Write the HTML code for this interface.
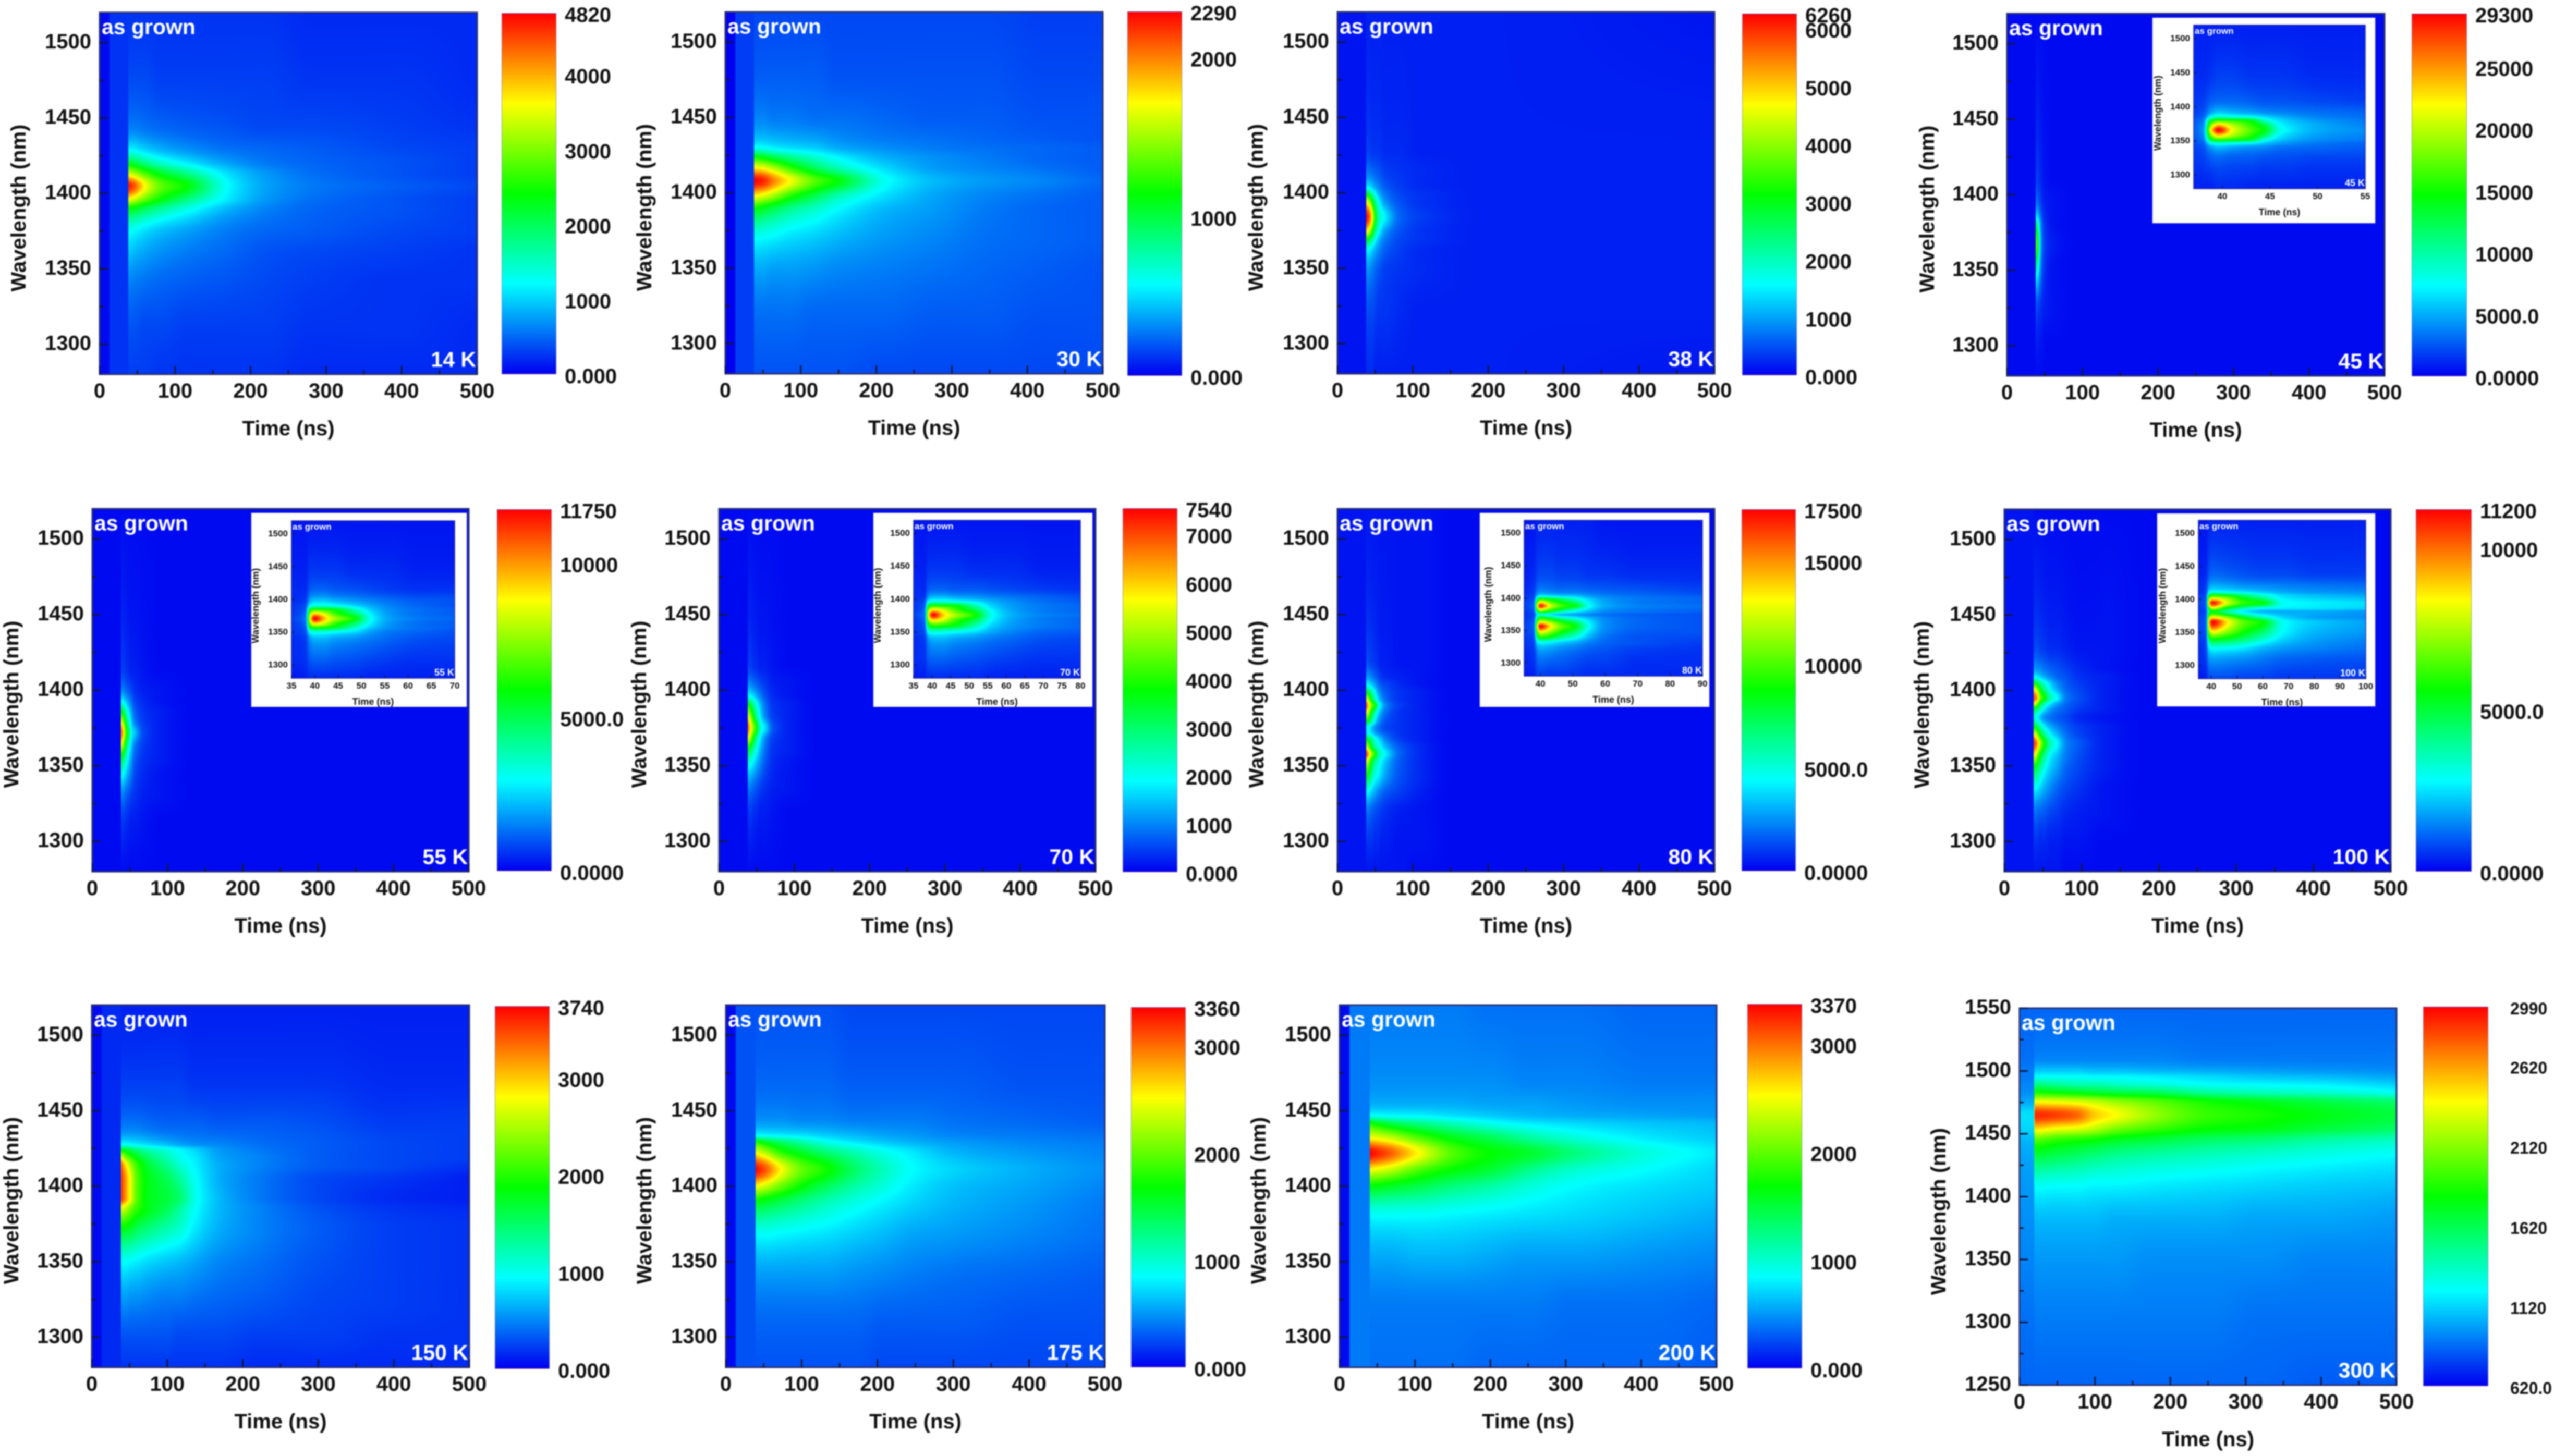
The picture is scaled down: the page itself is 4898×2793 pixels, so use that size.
<!DOCTYPE html>
<html lang="en">
<head>
<meta charset="utf-8">
<title>Time-resolved photoluminescence maps, as-grown sample, 14 K to 300 K</title>
<style>
html,body{margin:0;padding:0;background:#fff;}
#figure{position:relative;width:4898px;height:2793px;overflow:hidden;background:#fff;filter:blur(1.2px);font-family:"Liberation Sans",Arial,sans-serif;}
#figure canvas{position:absolute;display:block;}
#figure svg{position:absolute;left:0;top:0;overflow:visible;}
#figure text{font-family:"Liberation Sans",Arial,sans-serif;font-weight:700;}
.colorbar{position:absolute;box-sizing:border-box;border:1.5px solid rgba(120,120,190,.75);background:linear-gradient(to top,rgb(0,0,240) 0%,rgb(0,255,255) 25%,rgb(0,255,0) 50%,rgb(255,255,0) 75%,rgb(255,0,0) 100%);}
.inset-box{position:absolute;background:#fff;box-shadow:0 0 0 1px rgba(70,70,190,.5);}
</style>
</head>
<body>
<div id="figure"></div>
<script>
/* All grid values are intensities, in % of that panel's colour-bar span.
   Rows run top-to-bottom in the plot (long to short wavelength). */
const xTicks=[0,100,200,300,400,500];
const xMinorTicks=[50,150,250,350,450];
const yTicks=[1300,1350,1400,1450,1500];
const yMinorTicks=[1300,1325,1350,1375,1400,1425,1450,1475,1500];
const yTicks300K=[1250,1300,1350,1400,1450,1500,1550];
const yMinorTicks300K=[1275,1325,1375,1425,1475,1525];

const cbarTicks14K=[0,1000,2000,3000,4000,4820];
const cbarLabels14K=['0.000','1000','2000','3000','4000','4820'];
const gapEnds14K=[13,38];
const gapLevels14K=[1,5];
const times14K=[38,45,60,80,115,170,220,280,400,500];
const waves14K=[1520,1480,1445,1430,1420,1413,1405,1396,1390,1375,1360,1340,1310,1280];
const values14K=[
[5,5,5,5,5,5,5,4,4,4],
[7,7,7,6,6,6,6,5,5,4],
[12,12,11,10,9,8,7,7,6,5],
[24,23,20,17,14,11,10,9,7,6],
[48,45,38,31,24,16,12,10,8,6],
[72,68,58,48,38,22,15,11,8,6],
[98,93,75,60,50,25,16,12,9,7],
[75,70,60,50,38,23,15,11,8,6],
[50,48,42,36,28,18,13,10,8,6],
[27,25,22,19,16,12,10,9,7,6],
[20,18,16,14,12,10,8,7,6,5],
[13,12,11,10,9,8,7,6,5,5],
[8,8,7,7,6,6,6,5,5,4],
[6,6,6,5,5,5,5,4,4,4]];

const cbarTicks30K=[0,1000,2000,2290];
const cbarLabels30K=['0.000','1000','2000','2290'];
const gapEnds30K=[13,38];
const gapLevels30K=[0,6];
const times30K=[38,50,63,85,120,148,212,280,345,420,500];
const waves30K=[1520,1480,1450,1436,1430,1424,1417,1408,1398,1389,1370,1347,1320,1280];
const values30K=[
[7,7,7,7,7,7,7,7,7,6,6],
[9,9,9,9,9,8,8,8,8,7,7],
[13,13,12,12,11,11,10,9,9,8,8],
[19,19,18,17,16,14,12,11,10,9,8],
[27,26,24,22,20,17,14,12,11,10,9],
[50,47,42,36,29,24,17,14,12,10,9],
[75,72,66,54,40,32,21,15,13,11,9],
[100,97,88,75,58,50,26,18,15,13,10],
[76,72,66,54,42,33,22,16,13,11,9],
[50,46,42,36,30,25,18,15,12,10,9],
[26,25,24,22,20,18,15,13,11,10,9],
[16,16,15,15,14,13,12,11,10,9,8],
[11,11,11,11,10,10,10,9,9,8,8],
[8,8,8,8,8,8,7,7,7,7,7]];

const cbarTicks38K=[0,1000,2000,3000,4000,5000,6000,6260];
const cbarLabels38K=['0.000','1000','2000','3000','4000','5000','6000','6260'];
const gapEnds38K=[38];
const gapLevels38K=[2];
const times38K=[38,42,46,50,55,63,82,110,200,500];
const waves38K=[1520,1430,1415,1404,1399,1394,1384,1374,1369,1361,1348,1319,1280];
const values38K=[
[3,3,3,3,3,3,3,3,3,2],
[6,6,5,5,5,4,4,3,3,3],
[12,11,10,9,8,6,5,4,3,3],
[25,23,20,16,13,9,6,4,3,3],
[50,45,35,26,18,12,7,5,3,3],
[75,68,52,36,25,15,8,5,3,3],
[100,92,75,50,32,24,10,6,3,3],
[75,68,52,36,25,15,8,5,3,3],
[50,45,35,26,18,12,7,5,3,3],
[25,23,20,16,13,9,6,4,3,3],
[15,14,12,10,8,6,5,4,3,3],
[8,7,7,6,5,5,4,3,3,3],
[4,4,4,3,3,3,3,3,3,2]];

const cbarTicks45K=[0,5000,10000,15000,20000,25000,29300];
const cbarLabels45K=['0.0000','5000.0','10000','15000','20000','25000','29300'];
const gapEnds45K=[38];
const gapLevels45K=[1];
const times45K=[38,40,42,44,46,50,60,90,500];
const waves45K=[1520,1412,1395,1386,1381,1367,1354,1344,1325,1300,1280];
const values45K=[
[1,1,1,1,1,1,1,1,1],
[6,6,5,4,3,2,1,1,1],
[13,11,9,7,5,3,2,1,1],
[25,22,17,12,8,4,2,1,1],
[42,36,26,17,10,5,2,1,1],
[62,55,38,22,12,6,3,1,1],
[42,36,26,17,10,5,2,1,1],
[25,22,17,12,8,4,2,1,1],
[8,7,6,5,4,3,2,1,1],
[3,3,2,2,2,1,1,1,1],
[1,1,1,1,1,1,1,1,1]];

const insetTicks45K=[40,45,50,55];
const insetTimes45K=[37,38,38.8,39.6,41,43,44.5,46,50,55];
const insetWaves45K=[1520,1450,1410,1392,1385,1380,1372,1366,1360,1352,1347,1340,1320,1280];
const insetValues45K=[
[3,3,3,3,3,3,3,3,3,3],
[4,4,5,6,6,5,5,5,4,4],
[5,6,9,10,10,9,8,8,7,6],
[6,8,16,20,18,16,14,13,11,10],
[7,10,26,32,30,27,22,18,13,11],
[8,12,45,55,53,48,30,22,15,12],
[9,14,65,85,70,55,45,26,17,13],
[9,15,75,100,75,58,48,28,17,14],
[9,14,65,85,70,55,43,25,16,13],
[8,12,45,55,52,46,28,20,14,12],
[7,10,26,30,28,25,20,16,12,10],
[6,8,15,18,16,14,13,11,10,9],
[5,6,8,9,8,8,7,7,6,6],
[3,3,3,4,4,3,3,3,3,3]];

const cbarTicks55K=[0,5000,10000,11750];
const cbarLabels55K=['0.0000','5000.0','10000','11750'];
const gapEnds55K=[38];
const gapLevels55K=[1];
const times55K=[38,41,44,48,52,56,68,90,130,500];
const waves55K=[1520,1415,1400,1393,1386,1379,1372,1364,1356,1343,1330,1315,1280];
const values55K=[
[1,1,1,1,1,1,1,1,1,1],
[6,6,5,4,3,3,2,1,1,1],
[14,13,11,9,7,5,3,2,1,1],
[26,24,20,15,11,7,4,2,1,1],
[50,44,34,24,16,10,5,3,1,1],
[75,65,48,32,21,13,6,3,1,1],
[92,80,60,44,25,20,7,3,1,1],
[75,65,48,32,21,13,6,3,1,1],
[50,44,34,24,16,10,5,3,1,1],
[26,24,20,15,11,7,4,2,1,1],
[13,12,10,8,6,5,3,2,1,1],
[6,6,5,4,3,3,2,1,1,1],
[1,1,1,1,1,1,1,1,1,1]];

const insetTicks55K=[35,40,45,50,55,60,65,70];
const insetTimes55K=[35,38,39,40,42,44,48.7,52,56,62,70];
const insetWaves55K=[1520,1450,1415,1398,1390,1385,1378,1371,1364,1357,1351,1340,1310,1280];
const insetValues55K=[
[2,2,2,2,2,2,2,2,2,2,2],
[3,3,5,5,5,5,4,4,4,3,3],
[4,4,9,10,10,9,8,7,6,5,5],
[4,6,17,20,20,18,15,13,11,9,8],
[5,8,27,30,30,28,22,17,13,10,8],
[5,9,45,52,50,48,30,20,14,11,9],
[5,11,65,80,72,58,40,24,15,11,9],
[6,12,75,100,82,68,50,26,16,12,10],
[5,11,65,80,72,58,40,24,15,11,9],
[5,9,45,52,50,46,30,20,14,11,9],
[5,8,27,30,29,27,22,16,12,10,8],
[4,6,15,18,18,16,14,12,10,8,7],
[4,5,9,10,10,9,8,7,6,5,5],
[2,3,4,4,4,4,4,3,3,3,3]];

const cbarTicks70K=[0,1000,2000,3000,4000,5000,6000,7000,7540];
const cbarLabels70K=['0.000','1000','2000','3000','4000','5000','6000','7000','7540'];
const gapEnds70K=[38];
const gapLevels70K=[1];
const times70K=[38,41,45,50,55,59,72,95,130,500];
const waves70K=[1520,1417,1405,1397,1391,1383,1375,1368,1361,1349,1335,1320,1280];
const values70K=[
[1,1,1,1,1,1,1,1,1,1],
[6,6,5,4,3,3,2,1,1,1],
[14,13,11,9,7,6,3,2,1,1],
[26,24,21,16,12,9,4,2,1,1],
[50,45,36,26,18,13,5,3,1,1],
[75,66,52,34,23,16,6,3,1,1],
[92,80,65,50,28,25,8,3,1,1],
[75,66,52,34,23,16,6,3,1,1],
[50,45,36,26,18,13,5,3,1,1],
[26,24,21,16,12,9,4,2,1,1],
[13,12,10,8,6,5,3,2,1,1],
[6,6,5,4,3,3,2,1,1,1],
[1,1,1,1,1,1,1,1,1,1]];

const insetTicks70K=[35,40,45,50,55,60,65,70,75,80];
const insetTimes70K=[35,38,39,40.3,43,46,52,56,62,70,80];
const insetWaves70K=[1520,1450,1415,1402,1396,1390,1383,1376,1369,1360,1351,1340,1310,1280];
const insetValues70K=[
[2,2,2,2,2,2,2,2,2,2,2],
[3,3,5,5,5,5,4,4,4,3,3],
[4,4,9,10,10,9,9,8,7,6,5],
[4,6,17,20,20,18,16,14,12,10,8],
[5,8,27,30,30,28,23,18,14,11,9],
[5,9,45,54,52,50,32,21,15,12,10],
[5,11,65,80,72,58,42,25,16,12,10],
[6,12,75,100,80,68,50,27,17,13,11],
[5,11,65,80,72,58,42,25,16,12,10],
[5,9,45,54,52,48,32,21,15,12,10],
[5,8,27,30,29,27,22,17,13,10,9],
[4,6,15,18,18,16,14,12,10,8,7],
[4,5,9,10,10,9,8,7,6,5,5],
[2,3,4,4,4,4,4,3,3,3,3]];

const cbarTicks80K=[0,5000,10000,15000,17500];
const cbarLabels80K=['0.0000','5000.0','10000','15000','17500'];
const gapEnds80K=[38];
const gapLevels80K=[2];
const times80K=[38,41,45,50,54,58,63,82,110,150,500];
const waves80K=[1520,1420,1410,1404,1399,1394,1390,1385,1379,1375,1372,1368,1362,1358,1353,1343,1332,1321,1300,1280];
const values80K=[
[2,2,2,2,2,2,2,2,2,1,1],
[8,7,6,5,4,3,3,2,2,1,1],
[15,14,12,9,7,5,4,3,2,1,1],
[26,24,20,15,11,8,7,4,2,1,1],
[50,44,34,24,16,12,9,5,3,1,1],
[75,66,48,32,22,16,11,5,3,1,1],
[92,80,62,50,30,22,14,6,3,1,1],
[75,66,48,32,22,16,11,5,3,1,1],
[50,44,34,22,15,11,8,5,3,1,1],
[28,26,20,14,11,9,7,5,3,1,1],
[28,26,22,16,13,11,9,5,3,1,1],
[50,45,36,26,22,18,13,6,3,1,1],
[75,66,50,36,30,25,20,9,4,1,1],
[96,84,66,52,36,30,25,10,4,1,1],
[75,66,50,36,30,25,20,9,4,1,1],
[50,45,36,26,24,20,16,8,4,1,1],
[26,24,20,16,13,11,9,6,3,1,1],
[13,12,10,8,7,6,5,3,2,1,1],
[6,5,5,4,4,3,3,2,2,1,1],
[2,2,2,2,2,2,2,2,1,1,1]];

const insetTicks80K=[40,50,60,70,80,90];
const insetTimes80K=[35,38,39,40,43,46,51,55,60,70,90];
const insetWaves80K=[1520,1440,1410,1403,1399,1394,1388,1383,1378,1375,1370,1363,1357,1348,1339,1332,1320,1290,1280];
const insetValues80K=[
[2,2,3,3,3,3,3,3,2,2,2],
[3,4,6,7,7,6,6,5,5,4,4],
[4,6,12,14,13,12,12,11,10,9,7],
[5,7,20,26,24,22,20,16,13,11,9],
[5,8,35,50,46,40,28,20,15,12,10],
[6,9,55,75,60,50,38,24,16,12,10],
[6,10,70,98,72,58,48,26,17,13,11],
[6,9,55,75,60,48,32,22,15,12,10],
[5,8,35,50,40,30,22,17,13,11,9],
[5,7,22,28,22,18,15,13,11,9,8],
[5,8,35,50,42,32,24,18,13,10,8],
[6,9,55,75,66,54,40,24,14,10,8],
[6,10,70,100,78,62,48,26,14,10,8],
[6,9,55,75,64,52,38,22,13,9,8],
[5,8,36,50,45,36,26,17,11,8,7],
[5,7,22,26,24,21,17,13,10,8,6],
[4,6,13,16,15,13,11,9,8,6,5],
[3,4,7,8,7,7,6,5,5,4,4],
[2,3,5,6,5,5,5,4,4,4,3]];

const cbarTicks100K=[0,5000,10000,11200];
const cbarLabels100K=['0.0000','5000.0','10000','11200'];
const gapEnds100K=[38];
const gapLevels100K=[2];
const times100K=[38,42,46,52,60,68,80,95,130,180,500];
const waves100K=[1520,1430,1415,1409,1405,1401,1395,1391,1388,1382,1376,1371,1365,1357,1349,1335,1320,1300,1280];
const values100K=[
[1,1,1,1,1,1,1,1,1,1,1],
[7,7,6,5,4,4,3,2,2,1,1],
[15,14,13,11,9,8,6,4,2,1,1],
[26,24,21,17,13,10,8,5,3,1,1],
[50,44,36,28,20,14,9,6,3,1,1],
[75,66,50,36,24,17,10,7,3,1,1],
[92,85,62,50,32,25,12,8,3,1,1],
[75,64,46,32,22,16,10,7,3,1,1],
[50,42,34,24,16,12,9,6,3,1,1],
[32,26,20,14,11,9,7,4,2,1,1],
[50,44,34,24,17,13,9,6,3,1,1],
[75,66,50,36,24,18,11,7,3,1,1],
[96,86,68,50,32,25,13,9,3,1,1],
[75,66,50,36,24,19,12,8,3,1,1],
[50,44,36,27,20,16,10,7,3,1,1],
[26,24,21,17,13,10,7,5,2,1,1],
[12,11,10,9,7,6,4,3,2,1,1],
[5,5,4,4,3,3,2,2,1,1,1],
[2,2,2,2,2,2,1,1,1,1,1]];

const insetTicks100K=[40,50,60,70,80,90,100];
const insetTimes100K=[35,38,39,40.5,46,52,60,68,80,100];
const insetWaves100K=[1520,1440,1420,1411,1407,1401,1395,1387,1382,1373,1366,1351,1340,1326,1310,1280];
const insetValues100K=[
[2,2,3,3,3,3,3,3,3,3],
[3,4,8,10,9,8,7,7,6,6],
[4,6,15,18,17,15,14,13,12,11],
[4,7,24,28,26,24,20,17,15,14],
[5,8,38,50,46,38,28,21,18,16],
[6,9,60,75,65,50,38,24,21,19],
[6,10,75,98,72,56,50,26,24,22],
[5,9,50,72,50,36,27,24,23,21],
[5,8,38,48,35,24,18,17,17,15],
[6,9,60,75,64,48,32,21,16,14],
[6,10,75,100,78,60,50,26,20,16],
[6,9,60,75,64,52,40,25,18,15],
[5,8,38,50,46,40,30,21,16,13],
[4,7,22,26,25,23,18,15,13,11],
[4,6,14,16,15,14,12,10,9,8],
[2,3,6,7,7,6,6,5,5,5]];

const cbarTicks150K=[0,1000,2000,3000,3740];
const cbarLabels150K=['0.000','1000','2000','3000','3740'];
const gapEnds150K=[13,39];
const gapLevels150K=[1,4];
const times150K=[39,45,52,60,75,100,115,137,170,220,300,400,500];
const waves150K=[1520,1470,1440,1428,1424,1419,1414,1404,1392,1386,1372,1349,1325,1300,1280];
const values150K=[
[3,3,3,3,3,3,3,3,3,3,3,3,3],
[6,6,6,6,6,6,6,5,5,5,5,4,4],
[12,12,12,12,11,10,10,10,9,9,8,6,6],
[25,25,24,23,21,18,16,14,13,11,9,7,6],
[50,46,42,38,33,28,25,21,15,12,9,7,6],
[75,62,55,48,40,32,27,23,16,13,9,7,6],
[90,78,65,55,45,36,30,24,17,13,9,7,5],
[95,85,72,58,48,42,36,26,17,12,7,5,3],
[95,85,72,58,48,44,40,27,18,12,7,4,3],
[75,70,62,55,48,42,36,26,18,13,8,5,4],
[50,48,46,42,38,33,30,23,17,13,9,6,5],
[25,25,24,23,21,19,18,16,13,11,8,6,5],
[15,15,14,14,13,12,12,11,10,9,7,6,5],
[8,8,8,8,8,8,7,7,7,6,6,5,5],
[5,5,5,5,5,5,5,5,5,4,4,4,4]];

const cbarTicks175K=[0,1000,2000,3000,3360];
const cbarLabels175K=['0.000','1000','2000','3000','3360'];
const gapEnds175K=[13,39];
const gapLevels175K=[1,8];
const times175K=[39,52,73,100,131,170,210,247,300,400,500];
const waves175K=[1520,1470,1445,1434,1430,1422,1411,1400,1390,1367,1340,1310,1280];
const values175K=[
[8,8,8,8,8,7,7,7,7,7,7],
[10,10,10,10,10,9,9,9,9,8,8],
[14,14,14,13,13,12,12,12,11,10,9],
[25,24,23,22,20,18,16,15,13,12,11],
[50,44,38,32,26,22,19,17,15,13,12],
[75,68,55,47,40,33,27,23,18,15,13],
[100,92,75,60,52,40,31,25,21,17,14],
[75,70,60,50,42,34,28,23,19,16,13],
[50,47,43,38,33,28,24,21,18,15,12],
[25,25,24,23,22,20,18,16,15,13,11],
[15,15,15,15,15,14,13,12,11,10,9],
[10,10,10,10,10,10,9,9,9,8,8],
[8,8,8,8,8,8,7,7,7,7,7]];

const cbarTicks200K=[0,1000,2000,3000,3370];
const cbarLabels200K=['0.000','1000','2000','3000','3370'];
const gapEnds200K=[13,40];
const gapLevels200K=[1,12];
const times200K=[40,65,105,150,200,250,310,410,500];
const waves200K=[1520,1470,1455,1447,1442,1432,1422,1411,1400,1380,1350,1320,1280];
const values200K=[
[12,12,12,12,11,11,11,10,10],
[14,14,14,14,14,13,13,12,12],
[17,17,17,17,16,16,15,14,14],
[26,25,24,22,20,18,17,16,15],
[50,42,36,31,26,23,21,19,18],
[75,70,58,48,42,35,29,23,20],
[100,92,75,58,50,46,38,28,23],
[75,70,58,50,45,37,30,25,21],
[50,47,43,38,34,29,25,22,20],
[25,25,25,24,23,22,21,19,17],
[16,16,17,17,16,15,15,14,13],
[12,12,12,12,12,12,11,11,10],
[11,11,11,11,10,10,10,10,9]];

const cbarTicks300K=[620,1120,1620,2120,2620,2990];
const cbarLabels300K=['620.0','1120','1620','2120','2620','2990'];
const gapEnds300K=[];
const gapLevels300K=[];
const times300K=[0,19,20,50,77,100,126,176,250,320,400,500];
const waves300K=[1550,1510,1500,1496,1490,1483,1475,1465,1454,1445,1430,1408,1380,1350,1300,1250];
const values300K=[
[10,10,10,10,10,10,10,10,10,10,10,10],
[11,11,13,13,13,13,13,13,12,12,12,12],
[12,12,20,20,20,19,19,18,17,16,15,14],
[12,12,25,25,25,24,24,23,21,19,18,16],
[13,13,36,34,32,32,30,28,25,24,23,20],
[14,14,52,50,48,46,44,42,35,32,30,26],
[17,17,76,75,73,70,66,60,52,48,44,40],
[22,22,96,94,90,80,75,65,55,52,48,44],
[21,21,78,74,72,68,62,56,50,48,44,40],
[18,18,58,54,52,50,47,44,40,38,34,31],
[16,16,42,40,38,36,34,32,30,28,26,24],
[15,15,26,25,25,24,24,23,22,21,20,19],
[14,14,18,18,18,18,17,17,17,16,16,15],
[13,13,15,15,15,15,15,14,14,14,13,13],
[11,11,12,12,12,12,12,12,12,11,11,11],
[10,10,10,10,10,10,10,10,10,10,9,9]];

/* Layout of each panel on the page (not data). */
const panels=[
{id:'14k',label:'14 K',plot:[191,915,24,718],bar:[962,1067,25,718],titleX:38,times:times14K,waves:waves14K,values:values14K,gapEnds:gapEnds14K,gapLevels:gapLevels14K,cbarTicks:cbarTicks14K,cbarLabels:cbarLabels14K},
{id:'30k',label:'30 K',plot:[1391,2115,23,717],bar:[2162,2267,22,721],titleX:1238,times:times30K,waves:waves30K,values:values30K,gapEnds:gapEnds30K,gapLevels:gapLevels30K,cbarTicks:cbarTicks30K,cbarLabels:cbarLabels30K},
{id:'38k',label:'38 K',plot:[2565,3288,23,717],bar:[3341,3446,26,720],titleX:2411,times:times38K,waves:waves38K,values:values38K,gapEnds:gapEnds38K,gapLevels:gapLevels38K,cbarTicks:cbarTicks38K,cbarLabels:cbarLabels38K},
{id:'45k',label:'45 K',plot:[3849,4573,26,721],bar:[4625,4731,26,722],titleX:3698,times:times45K,waves:waves45K,values:values45K,gapEnds:gapEnds45K,gapLevels:gapLevels45K,cbarTicks:cbarTicks45K,cbarLabels:cbarLabels45K,
 inset:{box:[4128,4555,34,428],plot:[4207,4536,48,362],tMin:37,tMax:55,ticks:insetTicks45K,times:insetTimes45K,waves:insetWaves45K,values:insetValues45K}},
{id:'55k',label:'55 K',plot:[177,899,976,1672],bar:[953,1058,977,1671],titleX:24,times:times55K,waves:waves55K,values:values55K,gapEnds:gapEnds55K,gapLevels:gapLevels55K,cbarTicks:cbarTicks55K,cbarLabels:cbarLabels55K,
 inset:{box:[482,895,984,1356],plot:[559,872,999,1301],tMin:35,tMax:70,ticks:insetTicks55K,times:insetTimes55K,waves:insetWaves55K,values:insetValues55K}},
{id:'70k',label:'70 K',plot:[1379,2101,976,1672],bar:[2153,2258,975,1673],titleX:1228,times:times70K,waves:waves70K,values:values70K,gapEnds:gapEnds70K,gapLevels:gapLevels70K,cbarTicks:cbarTicks70K,cbarLabels:cbarLabels70K,
 inset:{box:[1675,2095,984,1356],plot:[1752,2072,998,1301],tMin:35,tMax:80,ticks:insetTicks70K,times:insetTimes70K,waves:insetWaves70K,values:insetValues70K}},
{id:'80k',label:'80 K',plot:[2565,3288,976,1672],bar:[3340,3444,977,1671],titleX:2412,times:times80K,waves:waves80K,values:values80K,gapEnds:gapEnds80K,gapLevels:gapLevels80K,cbarTicks:cbarTicks80K,cbarLabels:cbarLabels80K,
 inset:{box:[2838,3278,984,1356],plot:[2923,3265,998,1297],tMin:35,tMax:90,ticks:insetTicks80K,times:insetTimes80K,waves:insetWaves80K,values:insetValues80K}},
{id:'100k',label:'100 K',plot:[3844,4585,977,1672],bar:[4633,4740,977,1672],titleX:3688,times:times100K,waves:waves100K,values:values100K,gapEnds:gapEnds100K,gapLevels:gapLevels100K,cbarTicks:cbarTicks100K,cbarLabels:cbarLabels100K,
 inset:{box:[4137,4555,985,1355],plot:[4216,4537,998,1302],tMin:35,tMax:100,ticks:insetTicks100K,times:insetTimes100K,waves:insetWaves100K,values:insetValues100K}},
{id:'150k',label:'150 K',plot:[176,900,1928,2623],bar:[949,1054,1930,2626],titleX:24,times:times150K,waves:waves150K,values:values150K,gapEnds:gapEnds150K,gapLevels:gapLevels150K,cbarTicks:cbarTicks150K,cbarLabels:cbarLabels150K},
{id:'175k',label:'175 K',plot:[1392,2119,1928,2623],bar:[2169,2274,1932,2623],titleX:1238,times:times175K,waves:waves175K,values:values175K,gapEnds:gapEnds175K,gapLevels:gapLevels175K,cbarTicks:cbarTicks175K,cbarLabels:cbarLabels175K},
{id:'200k',label:'200 K',plot:[2569,3292,1928,2623],bar:[3351,3456,1926,2625],titleX:2416,times:times200K,waves:waves200K,values:values200K,gapEnds:gapEnds200K,gapLevels:gapLevels200K,cbarTicks:cbarTicks200K,cbarLabels:cbarLabels200K},
{id:'300k',label:'300 K',plot:[3873,4596,1934,2657],bar:[4647,4772,1931,2659],titleX:3720,wMin:1250,wMax:1550,barFont:32,barGap:42,titleDy:390,yMajor:yTicks300K,yMinor:yMinorTicks300K,times:times300K,waves:waves300K,values:values300K,gapEnds:gapEnds300K,gapLevels:gapLevels300K,cbarTicks:cbarTicks300K,cbarLabels:cbarLabels300K}
];

const SVGNS='http://www.w3.org/2000/svg';
const figure=document.getElementById('figure');

function tangents(xs,ys){
  const n=xs.length,d=[],m=new Array(n);
  for(let i=0;i<n-1;i++)d.push((ys[i+1]-ys[i])/(xs[i+1]-xs[i]));
  m[0]=d[0];m[n-1]=d[n-2];
  for(let i=1;i<n-1;i++){
    if(d[i-1]*d[i]<=0){m[i]=0;}
    else{
      const a=xs[i]-xs[i-1],b=xs[i+1]-xs[i];
      m[i]=(a+b)*3/((2*b+a)/d[i-1]+(b+2*a)/d[i]);
    }
  }
  return m;
}
function hermite(xs,ys,m,x){
  const n=xs.length;
  if(x<=xs[0])return ys[0];
  if(x>=xs[n-1])return ys[n-1];
  let i=0;
  while(x>xs[i+1])i++;
  const h=xs[i+1]-xs[i],s=(x-xs[i])/h,s2=s*s,s3=s2*s;
  return (2*s3-3*s2+1)*ys[i]+(s3-2*s2+s)*h*m[i]+(-2*s3+3*s2)*ys[i+1]+(s3-s2)*h*m[i+1];
}
function rainbow(v,out,o){
  const p=Math.max(0,Math.min(100,v));
  let r,g,b;
  if(p<25){const f=p/25;r=0;g=255*f;b=240+15*f;}
  else if(p<50){const f=(p-25)/25;r=0;g=255;b=255*(1-f);}
  else if(p<75){const f=(p-50)/25;r=255*f;g=255;b=0;}
  else{const f=(p-75)/25;r=255;g=255*(1-f);b=0;}
  out[o]=r;out[o+1]=g;out[o+2]=b;out[o+3]=255;
}
function linearScale(d0,d1,r0,r1){
  const s=v=>r0+(v-d0)/(d1-d0)*(r1-r0);
  s.invert=p=>d0+(p-r0)/(r1-r0)*(d1-d0);
  return s;
}
function drawMap(parent,name,plot,xs,ysc,d){
  const canvas=document.createElement('canvas');
  
  
  const w=plot[1]-plot[0],h=plot[3]-plot[2];
  canvas.width=w;canvas.height=h;
  canvas.style.left=plot[0]+'px';canvas.style.top=plot[2]+'px';
  const ctx=canvas.getContext('2d'),img=ctx.createImageData(w,h),px=img.data;
  const neg=d.waves.map(v=>-v);
  const rowM=d.values.map(row=>tangents(d.times,row));
  const gapEnds=d.gapEnds||[],gapLevels=d.gapLevels||[];
  for(let i=0;i<w;i++){
    const t=xs.invert(plot[0]+i+.5);
    let flat=null;
    if(t<d.times[0]&&gapEnds.length){
      flat=gapLevels[gapLevels.length-1];
      for(let g=0;g<gapEnds.length;g++){if(t<gapEnds[g]){flat=gapLevels[g];break;}}
    }
    let col=null,colM=null;
    if(flat===null){
      col=d.values.map((row,r)=>hermite(d.times,row,rowM[r],t));
      colM=tangents(neg,col);
    }
    for(let j=0;j<h;j++){
      const v=flat!==null?flat:hermite(neg,col,colM,-ysc.invert(plot[2]+j+.5));
      rainbow(v,px,(j*w+i)*4);
    }
  }
  ctx.putImageData(img,0,0);
  parent.appendChild(canvas);
}
function addText(svg,name,str,x,y,size,fill,anchor,rotate){
  const el=document.createElementNS(SVGNS,'text');
  
  
  el.setAttribute('font-size',size);
  el.setAttribute('fill',fill);
  el.setAttribute('text-anchor',anchor);
  if(rotate){
    el.setAttribute('transform','translate('+(x+size*.28)+' '+y+') rotate(-90)');
  }else{
    el.setAttribute('x',x);
    el.setAttribute('y',y+size*.28);
  }
  el.textContent=str;
  svg.appendChild(el);
}
function addLine(svg,name,x1,y1,x2,y2,width,color){
  const el=document.createElementNS(SVGNS,'line');
  
  
  el.setAttribute('x1',x1);el.setAttribute('y1',y1);
  el.setAttribute('x2',x2);el.setAttribute('y2',y2);
  el.setAttribute('stroke',color);
  el.setAttribute('stroke-width',width);
  svg.appendChild(el);
}
function addFrame(svg,name,plot,width,color){
  const el=document.createElementNS(SVGNS,'rect');
  
  
  el.setAttribute('x',plot[0]);el.setAttribute('y',plot[2]);
  el.setAttribute('width',plot[1]-plot[0]);el.setAttribute('height',plot[3]-plot[2]);
  el.setAttribute('fill','none');
  el.setAttribute('stroke',color);
  el.setAttribute('stroke-width',width);
  svg.appendChild(el);
}

panels.forEach(function(p){
  const wrap=document.createElement('div');
  
  
  figure.appendChild(wrap);

  const wMin=p.wMin||1280,wMax=p.wMax||1520;
  const xs=linearScale(0,500,p.plot[0],p.plot[1]);
  const ys=linearScale(wMin,wMax,p.plot[3],p.plot[2]);
  drawMap(wrap,'heatmap-'+p.id,p.plot,xs,ys,p);

  const bar=document.createElement('div');
  bar.className='colorbar';
  
  
  bar.style.left=p.bar[0]+'px';bar.style.top=p.bar[2]+'px';
  bar.style.width=(p.bar[1]-p.bar[0])+'px';bar.style.height=(p.bar[3]-p.bar[2])+'px';
  wrap.appendChild(bar);

  if(p.inset){
    const box=document.createElement('div');
    box.className='inset-box';
    
    
    box.style.left=p.inset.box[0]+'px';box.style.top=p.inset.box[2]+'px';
    box.style.width=(p.inset.box[1]-p.inset.box[0])+'px';box.style.height=(p.inset.box[3]-p.inset.box[2])+'px';
    wrap.appendChild(box);
  }
  let ixs=null,iys=null;
  if(p.inset){
    ixs=linearScale(p.inset.tMin,p.inset.tMax,p.inset.plot[0],p.inset.plot[1]);
    iys=linearScale(1280,1520,p.inset.plot[3],p.inset.plot[2]);
    drawMap(wrap,'inset-heatmap-'+p.id,p.inset.plot,ixs,iys,p.inset);
  }

  const svg=document.createElementNS(SVGNS,'svg');
  
  
  svg.setAttribute('width','4898');
  svg.setAttribute('height','2793');
  wrap.appendChild(svg);

  const tickColor='#14183f';
  addFrame(svg,'plot-frame-'+p.id,p.plot,3,'#2a2f6e');
  xTicks.forEach(function(t){
    addLine(svg,'x-tick-'+t,xs(t),p.plot[3],xs(t),p.plot[3]-16,3,tickColor);
    addText(svg,'x-tick-label-'+t,String(t),xs(t),p.plot[3]+34,40,'#111','middle');
  });
  xMinorTicks.forEach(function(t){
    addLine(svg,'x-minor-tick-'+t,xs(t),p.plot[3],xs(t),p.plot[3]-8,3,tickColor);
  });
  (p.yMinor||yMinorTicks).forEach(function(w){
    addLine(svg,'y-minor-tick-'+w,p.plot[0],ys(w),p.plot[0]+8,ys(w),3,tickColor);
  });
  (p.yMajor||yTicks).forEach(function(w){
    addLine(svg,'y-tick-'+w,p.plot[0],ys(w),p.plot[0]+16,ys(w),3,tickColor);
    addText(svg,'y-tick-label-'+w,String(w),p.plot[0]-16,ys(w),40,'#111','end');
  });
  addText(svg,'x-axis-title','Time (ns)',(p.plot[0]+p.plot[1])/2,p.plot[3]+106,40,'#111','middle');
  addText(svg,'y-axis-title','Wavelength (nm)',p.titleX,p.plot[2]+(p.titleDy||375),40,'#111','middle',true);
  addText(svg,'sample-label','as grown',p.plot[0]+4,p.plot[2]+30,41,'#fff','start');
  addText(svg,'temperature-label',p.label,p.plot[1]-2,p.plot[3]-26,41,'#fff','end');

  const zs=linearScale(p.cbarTicks[0],p.cbarTicks[p.cbarTicks.length-1],p.bar[3],p.bar[2]);
  p.cbarTicks.forEach(function(v,i){
    addText(svg,'colorbar-tick-label-'+v,p.cbarLabels[i],p.bar[1]+(p.barGap||16),zs(v)+6,p.barFont||40,'#111','start');
  });

  if(p.inset){
    const ip=p.inset.plot;
    addFrame(svg,'inset-frame-'+p.id,ip,1.5,'#2a2f9e');
    p.inset.ticks.forEach(function(t){
      addLine(svg,'inset-x-tick-'+t,ixs(t),ip[3],ixs(t),ip[3]-6,1.5,tickColor);
      addText(svg,'inset-x-tick-label-'+t,String(t),ixs(t),ip[3]+15,17,'#111','middle');
    });
    yTicks.forEach(function(w){
      addLine(svg,'inset-y-tick-'+w,ip[0],iys(w),ip[0]+6,iys(w),1.5,tickColor);
      addText(svg,'inset-y-tick-label-'+w,String(w),ip[0]-7,iys(w),17,'#111','end');
    });
    addText(svg,'inset-x-axis-title','Time (ns)',(ip[0]+ip[1])/2,ip[3]+46,18,'#111','middle');
    addText(svg,'inset-y-axis-title','Wavelength (nm)',ip[0]-68,(ip[2]+ip[3])/2+12,18,'#111','middle',true);
    addText(svg,'inset-sample-label','as grown',ip[0]+2,ip[2]+12,17,'#fff','start');
    addText(svg,'inset-temperature-label',p.label,ip[1]-1,ip[3]-10,18,'#fff','end');
  }
});
</script>
</body>
</html>
